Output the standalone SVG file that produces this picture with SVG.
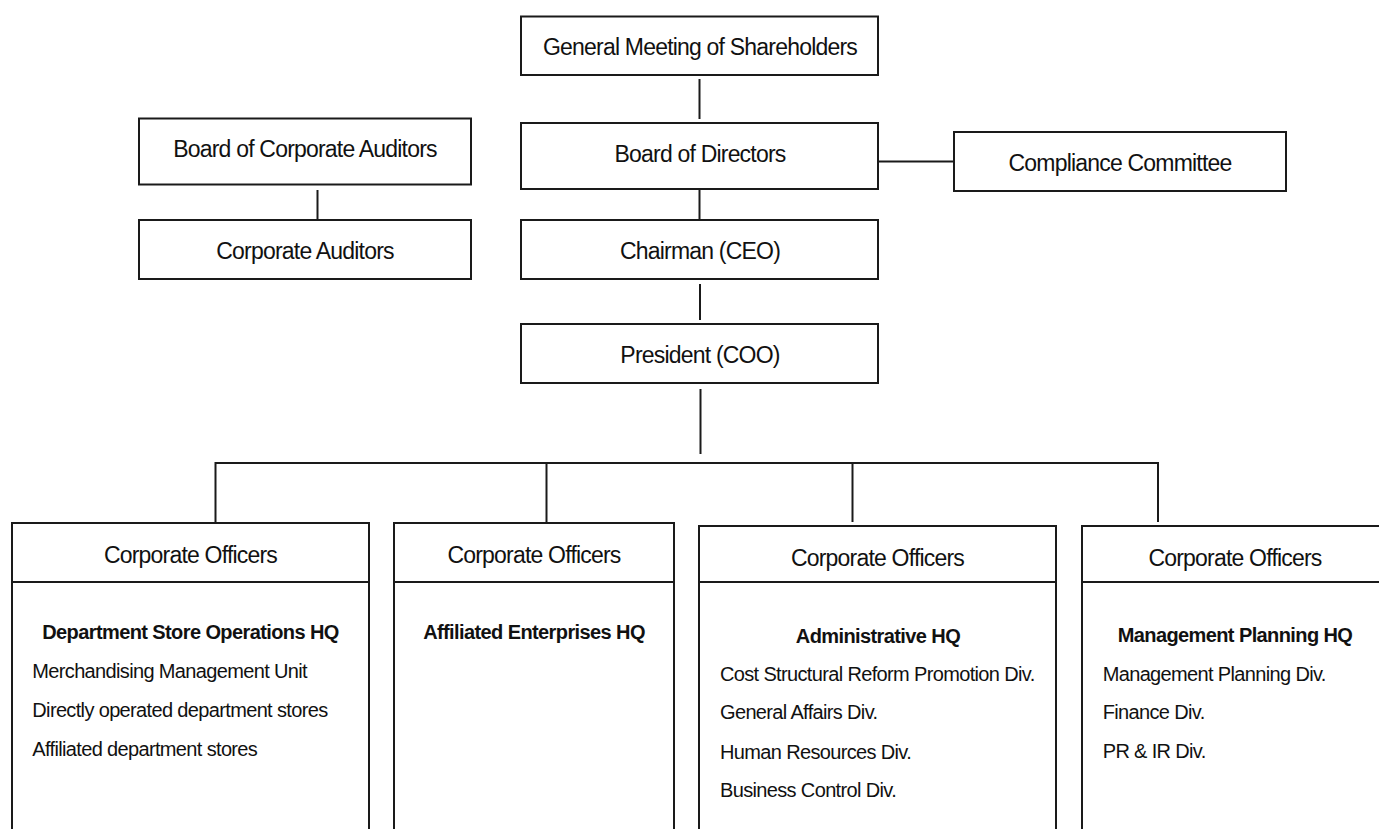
<svg xmlns="http://www.w3.org/2000/svg" width="1379" height="829" viewBox="0 0 1379 829">
<style>
.box{fill:#fff;stroke:#1a1a1a;stroke-width:2}
.ln{fill:none;stroke:#1a1a1a;stroke-width:2}
.t{font-family:"Liberation Sans",Arial,sans-serif;font-size:23px;letter-spacing:-0.8px;fill:#111;text-anchor:middle}
.b{font-family:"Liberation Sans",Arial,sans-serif;font-size:20px;letter-spacing:-0.6px;font-weight:bold;fill:#111;text-anchor:middle}
.i{font-family:"Liberation Sans",Arial,sans-serif;font-size:20px;letter-spacing:-0.65px;fill:#111}
</style>
<rect width="1379" height="829" fill="#fff"/>
<g id="connectors">
<line class="ln" x1="699.5" y1="79" x2="699.5" y2="119"/>
<line class="ln" x1="699.5" y1="189" x2="699.5" y2="220"/>
<line class="ln" x1="700" y1="284" x2="700" y2="320"/>
<line class="ln" x1="700.5" y1="389" x2="700.5" y2="454"/>
<line class="ln" x1="317.5" y1="190" x2="317.5" y2="220"/>
<line class="ln" x1="878" y1="161.5" x2="954" y2="161.5"/>
<polyline class="ln" points="215.5,523 215.5,463 1158,463 1158,522"/>
<line class="ln" x1="546.5" y1="463" x2="546.5" y2="523"/>
<line class="ln" x1="852.5" y1="463" x2="852.5" y2="522"/>
</g>
<g id="general-meeting">
<rect class="box" x="521" y="16.5" width="357" height="58.5"/>
<text class="t" x="700" y="55">General Meeting of Shareholders</text>
</g>
<g id="board-of-directors">
<rect class="box" x="521" y="123" width="357" height="66"/>
<text class="t" x="700" y="162">Board of Directors</text>
</g>
<g id="chairman">
<rect class="box" x="521" y="220" width="357" height="59"/>
<text class="t" x="700" y="259">Chairman (CEO)</text>
</g>
<g id="president">
<rect class="box" x="521" y="324" width="357" height="59"/>
<text class="t" x="700" y="363">President (COO)</text>
</g>
<g id="board-of-corporate-auditors">
<rect class="box" x="139" y="118.5" width="332" height="66"/>
<text class="t" x="305" y="157">Board of Corporate Auditors</text>
</g>
<g id="corporate-auditors">
<rect class="box" x="139" y="220" width="332" height="59"/>
<text class="t" x="305" y="259">Corporate Auditors</text>
</g>
<g id="compliance-committee">
<rect class="box" x="954" y="132" width="332" height="59"/>
<text class="t" x="1120" y="171">Compliance Committee</text>
</g>
<g id="officers-1">
<rect class="box" x="12" y="523" width="357" height="320"/>
<line class="ln" x1="12" y1="582" x2="369" y2="582"/>
<text class="t" x="190.5" y="562.5">Corporate Officers</text>
<text class="b" x="190.5" y="639.3">Department Store Operations HQ</text>
<text class="i" x="32.3" y="678.3">Merchandising Management Unit</text>
<text class="i" x="32.3" y="716.7">Directly operated department stores</text>
<text class="i" x="32.3" y="756">Affiliated department stores</text>
</g>
<g id="officers-2">
<rect class="box" x="394" y="523" width="280" height="320"/>
<line class="ln" x1="394" y1="582" x2="674" y2="582"/>
<text class="t" x="534" y="562.5">Corporate Officers</text>
<text class="b" x="534" y="639.3">Affiliated Enterprises HQ</text>
</g>
<g id="officers-3">
<rect class="box" x="699" y="526" width="357" height="320"/>
<line class="ln" x1="699" y1="582" x2="1056" y2="582"/>
<text class="t" x="877.5" y="565.5">Corporate Officers</text>
<text class="b" x="878" y="642.5">Administrative HQ</text>
<text class="i" x="720" y="681">Cost Structural Reform Promotion Div.</text>
<text class="i" x="720" y="719.3">General Affairs Div.</text>
<text class="i" x="720" y="759">Human Resources Div.</text>
<text class="i" x="720" y="797.3">Business Control Div.</text>
</g>
<g id="officers-4">
<rect class="box" x="1082" y="526" width="310" height="320"/>
<line class="ln" x1="1082" y1="582" x2="1392" y2="582"/>
<text class="t" x="1235" y="565.5">Corporate Officers</text>
<text class="b" x="1235" y="642.3">Management Planning HQ</text>
<text class="i" x="1102.7" y="681">Management Planning Div.</text>
<text class="i" x="1102.7" y="719.3">Finance Div.</text>
<text class="i" x="1102.7" y="757.7">PR &amp; IR Div.</text>
</g>
</svg>
